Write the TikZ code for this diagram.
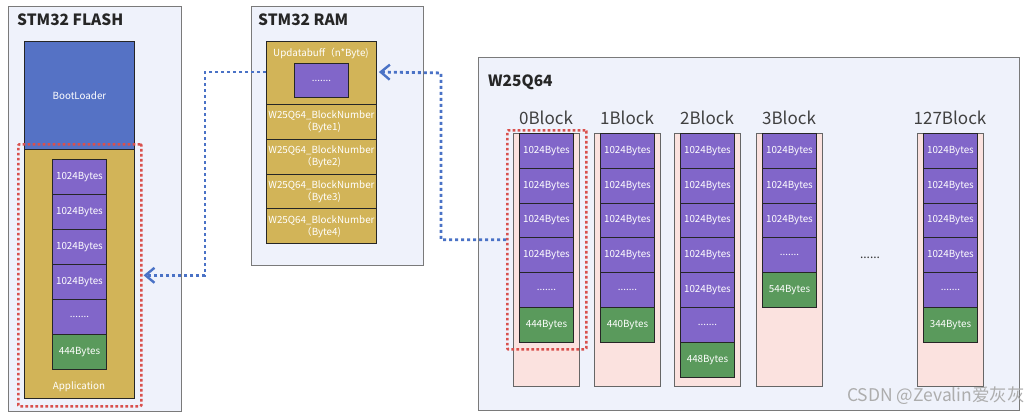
\documentclass[tikz,border=0pt]{standalone}
\usepackage{fontspec}
\setmainfont{Noto Sans CJK SC}
\usetikzlibrary{arrows.meta,calc}
\definecolor{panelbg}{HTML}{EFF2FB}
\definecolor{panelbd}{HTML}{7A7A7A}
\definecolor{cellpur}{HTML}{8166C9}
\definecolor{cellgrn}{HTML}{5A9A5C}
\definecolor{gold}{HTML}{D2B458}
\definecolor{bootblue}{HTML}{5572C5}
\definecolor{pinkbg}{HTML}{FBE2DF}
\definecolor{arrblue}{HTML}{4A72C6}
\definecolor{selred}{HTML}{D9504C}
\tikzset{
  panel/.style={draw=panelbd, fill=panelbg, line width=1pt, anchor=north west, inner sep=0pt},
  ptitle/.style={anchor=west, font=\bfseries\fontsize{15.5}{18}\selectfont, text=black!85, inner sep=0pt},
  cell/.style={draw=black!85, line width=0.9pt, fill=cellpur, text=white, anchor=north west,
    minimum width=54pt, minimum height=34.8pt, inner sep=0pt, font=\fontsize{9.8}{10}\selectfont},
  lastcell/.style={cell, fill=cellgrn},
  goldbox/.style={draw=black!85, line width=0.9pt, fill=gold, text=white, anchor=north west,
    minimum width=110pt, inner sep=0pt, font=\fontsize{9.8}{12}\selectfont, align=center},
  colbox/.style={draw=black!60, line width=1pt, fill=pinkbg, anchor=north west,
    minimum width=66pt, minimum height=253pt, inner sep=0pt},
  collabel/.style={font=\fontsize{17}{18}\selectfont, text=black!75, inner sep=0pt},
  sel/.style={draw=selred, line width=2.6pt, dash pattern=on 2.6pt off 2.4pt, rounded corners=1pt,
    anchor=north west, inner sep=0pt},
  flow/.style={draw=arrblue, line width=2.8pt, dash pattern=on 3pt off 3pt,
    -{Straight Barb[length=9pt,width=15pt,line width=2.4pt]}},
}
\begin{document}
\begin{tikzpicture}[x=1pt,y=-1pt]
\useasboundingbox (0,0) rectangle (1026,413);
\fill[white] (0,0) rectangle (1026,413);
% ---------------- STM32 FLASH
\node[panel, minimum width=173pt, minimum height=405pt] (flash) at (8,6) {};
\node[ptitle] (flasht) at (17,20) {STM32 FLASH};
\node[draw=black!85, line width=0.9pt, fill=bootblue, text=white, anchor=north west,
  minimum width=110pt, minimum height=108pt, inner sep=0pt, font=\fontsize{9.8}{10}\selectfont] (boot) at (24,41) {BootLoader};
\node[goldbox, minimum height=249pt] (app) at (24,149) {};
\node[text=white, font=\fontsize{9.8}{10}\selectfont, inner sep=0pt] (applab) at (79,387) {Application};
\foreach \i in {1,...,4} {
  \node[cell] (f\i) at (52,159+35*\i-35) {1024Bytes};
}
\node[cell] (f5) at (52,299) {.......};
\node[lastcell] (f6) at (52,334) {444Bytes};
\node[sel, minimum width=123pt, minimum height=262pt] (appsel) at (17,143) {};
% ---------------- STM32 RAM
\node[panel, minimum width=172pt, minimum height=259pt] (ram) at (251,6) {};
\node[ptitle] (ramt) at (258,20) {STM32 RAM};
\node[goldbox, minimum height=63pt] (ubuf) at (266,41) {};
\node[text=white, font=\fontsize{9.8}{10}\selectfont, inner sep=0pt] (ubuflab) at (321,53) {Updatabuff（n*Byte)};
\node[cell, minimum height=34pt] (ubufin) at (294,63) {.......};
\foreach \i in {1,...,4} {
  \node[goldbox, minimum height=34.8pt] (bn\i) at (266,104+34.8*\i-34.8) {W25Q64\_BlockNumber\\（Byte\i)};
}
% ---------------- W25Q64
\node[panel, minimum width=541pt, minimum height=353pt] (w25) at (478,57) {};
\node[ptitle] (w25t) at (488,82) {W25Q64};
\foreach \nm/\x/\n/\last in {0/513/4/444, 1/594/4/440, 2/674/5/448, 3/756/3/544, 127/917/4/344} {
  \node[colbox] (col\nm) at (\x,133) {};
  \node[collabel] (lab\nm) at (\x+33,118) {\nm Block};
  \foreach \i in {1,...,\n} {
    \node[cell] (c\nm-\i) at (\x+6,133+34.8*\i-34.8) {1024Bytes};
  }
  \node[cell] (c\nm-dots) at (\x+6,133+34.8*\n) {.......};
  \node[lastcell] (c\nm-last) at (\x+6,133+34.8*\n+34.8) {\last Bytes};
}
\node[font=\fontsize{12}{12}\selectfont, text=black!80, inner sep=0pt] (gap) at (870,258) {......};
\node[sel, minimum width=79pt, minimum height=219pt] (blksel) at (506,129) {};
% ---------------- connectors
\coordinate (v1) at (205,72);
\draw[flow] (ubuf.west |- v1) -- (v1) |- ([xshift=1pt]appsel.east);
\coordinate (v2) at (441,0);
\draw[flow] (blksel.west) -| (v2 |- ubuf.east) -- ([xshift=2pt]ubuf.east |- v1);
% watermark
\node[anchor=east, text=black!32, font=\fontsize{17.5}{18}\selectfont, inner sep=0pt] (wm) at (1025,396) {CSDN @Zevalin爱灰灰};
\end{tikzpicture}
\end{document}
